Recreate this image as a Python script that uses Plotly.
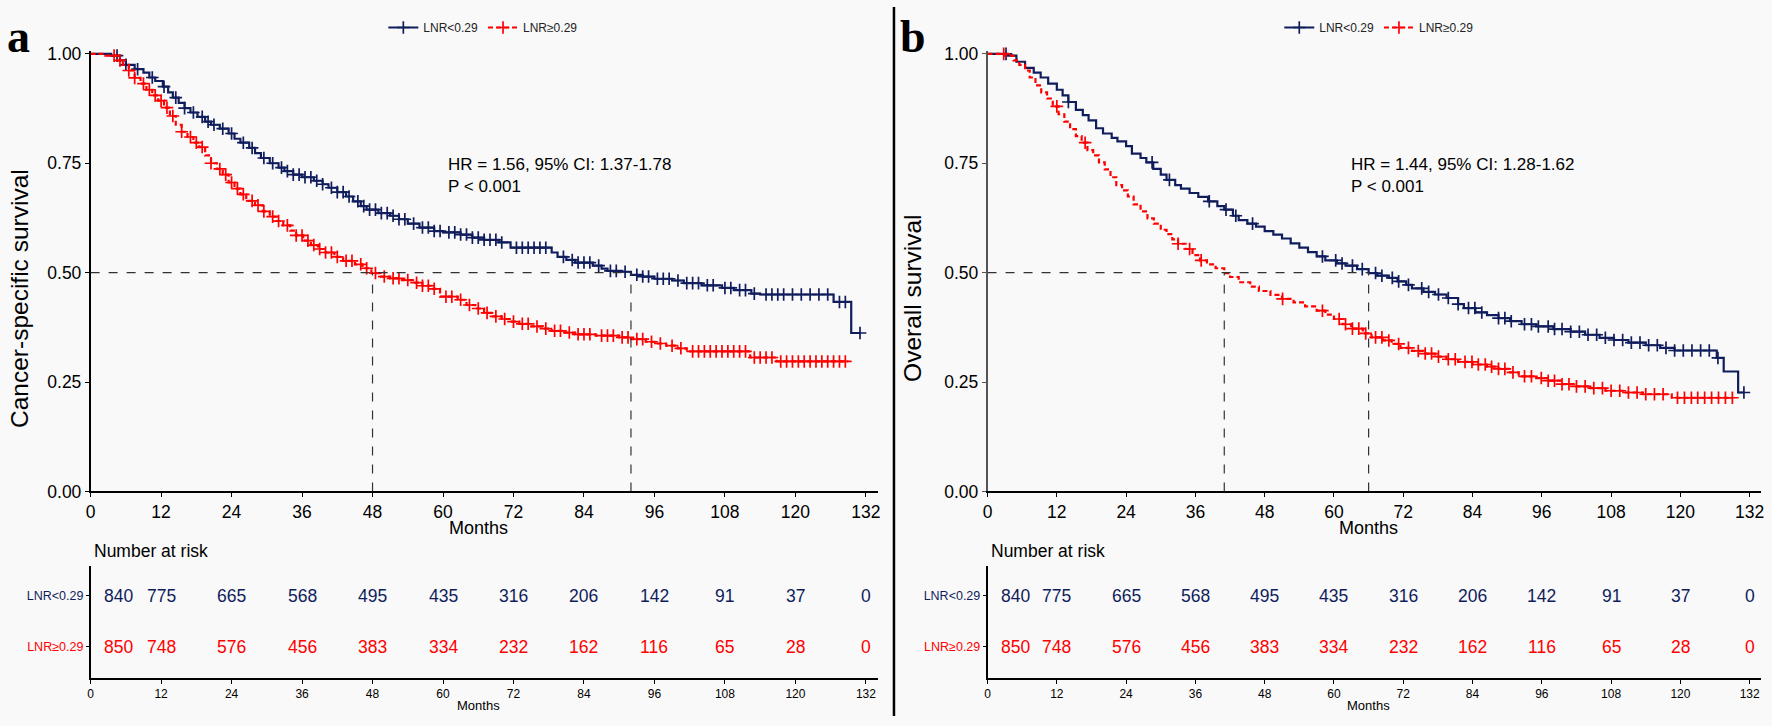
import numpy as np
import plotly.graph_objects as go

W, H = 1772, 726
NAVY = "#101d5c"
RED = "#ff0000"
BG = "#f9f9f9"

groups = ["LNR<0.29", "LNR≥0.29"]
month_ticks = [0, 12, 24, 36, 48, 60, 72, 84, 96, 108, 120, 132]
risk_low = [840, 775, 665, 568, 495, 435, 316, 206, 142, 91, 37, 0]
risk_high = [850, 748, 576, 456, 383, 334, 232, 162, 116, 65, 28, 0]

# ---------- Panel a: cancer-specific survival ----------
a_low_t = [0, 3.5, 5.0, 6.0, 7.5, 9.0, 10.0, 11.0, 12.3, 13.2, 14.0, 15.0, 16.0, 17.0, 18.2, 19.5, 20.5,
           22.0, 23.5, 24.5, 25.5, 27.0, 28.0, 29.0, 30.5, 32.0, 33.0, 34.5, 36.0, 38.0, 39.5, 40.5, 42.0,
           43.5, 44.7, 46.0, 47.0, 49.0, 51.0, 52.5, 54.0, 56.0, 58.5, 60.0, 63.0, 65.0, 67.0, 69.5, 71.5,
           78.5, 79.5, 81.0, 82.5, 85.5, 87.0, 88.0, 90.5, 92.0, 94.0, 96.0, 99.0, 101.0, 104.0, 107.5,
           109.5, 112.5, 114.0, 126.5, 129.5]
a_low_s = [1.0, 0.996, 0.985, 0.975, 0.965, 0.957, 0.946, 0.938, 0.925, 0.912, 0.900, 0.888, 0.876, 0.866,
           0.856, 0.845, 0.838, 0.829, 0.818, 0.806, 0.797, 0.785, 0.773, 0.762, 0.750, 0.740, 0.732, 0.724,
           0.718, 0.710, 0.702, 0.694, 0.684, 0.674, 0.663, 0.652, 0.644, 0.636, 0.630, 0.622, 0.612, 0.603,
           0.595, 0.592, 0.587, 0.580, 0.575, 0.569, 0.557, 0.546, 0.536, 0.529, 0.523, 0.516, 0.509, 0.504,
           0.502, 0.495, 0.491, 0.486, 0.482, 0.476, 0.471, 0.465, 0.460, 0.452, 0.450, 0.433, 0.362]
a_low_end = 131
a_high_t = [0, 2.5, 4.5, 5.5, 6.5, 7.5, 8.5, 9.5, 10.5, 11.5, 12.5, 13.5, 14.5, 15.5, 16.5, 17.5, 18.5,
            19.5, 20.5, 21.5, 22.5, 23.5, 24.5, 25.5, 26.5, 28.0, 29.3, 30.5, 31.5, 32.8, 34.0, 35.0, 36.2,
            37.5, 38.7, 40.0, 41.5, 43.0, 45.0, 46.3, 47.8, 49.2, 51.0, 53.0, 55.0, 56.5, 58.0, 59.5, 62.5,
            64.0, 65.5, 67.0, 68.5, 70.0, 71.5, 73.0, 75.0, 77.0, 78.5, 80.5, 82.5, 86.0, 90.0, 92.0, 94.5,
            96.0, 98.0, 100.0, 101.5, 112.3, 116.8]
a_high_s = [1.0, 0.996, 0.985, 0.975, 0.962, 0.945, 0.932, 0.918, 0.905, 0.893, 0.877, 0.858, 0.838, 0.822,
            0.810, 0.797, 0.787, 0.768, 0.750, 0.737, 0.724, 0.706, 0.692, 0.679, 0.664, 0.654, 0.640, 0.628,
            0.618, 0.608, 0.596, 0.585, 0.573, 0.563, 0.554, 0.546, 0.536, 0.527, 0.519, 0.510, 0.499, 0.491,
            0.487, 0.483, 0.477, 0.470, 0.463, 0.445, 0.438, 0.426, 0.418, 0.408, 0.400, 0.394, 0.388, 0.383,
            0.377, 0.372, 0.367, 0.363, 0.359, 0.356, 0.352, 0.348, 0.342, 0.338, 0.333, 0.327, 0.320, 0.306,
            0.297]
a_high_end = 129
a_low_cens = [4.5, 6, 8, 10.5, 12.5, 14.5, 16, 17.5, 19, 20, 21, 22.5, 24, 26, 27.5, 29.5, 31, 32.5, 33.5,
              34.5, 35.5, 36.5, 37.5, 38.5, 39.5, 41, 42, 43, 44, 45.5, 46.5, 47.5, 48.5, 49.5, 50.5, 51.5,
              52.5, 53.5, 55, 56.5, 57.5, 58.5, 59.5, 61, 62, 63, 64, 65, 66, 67, 68, 69, 70, 72.5, 73.5,
              74.5, 75.5, 76.5, 77.5, 80.5, 82, 83, 84, 85, 86.5, 88.5, 89.5, 91, 93, 94, 95, 96.5, 97.5,
              98.5, 100, 101.5, 102.5, 103.5, 105, 106, 108, 109, 110.5, 111.5, 113, 115, 116, 117, 118,
              119.5, 121, 122.5, 124, 125.5, 127.5, 128.5, 131]
a_high_cens = [4, 5, 6.5, 7.5, 9, 10, 11, 12, 13, 14, 15.5, 17, 18, 19, 20.5, 22, 23, 24, 25, 26, 27.5,
               28.5, 29.5, 31, 32, 33.5, 35, 36, 37, 38, 39, 40, 41, 42, 43.5, 44.5, 46, 47, 48.5, 50, 51.5,
               52.5, 54, 55.5, 56.5, 57.5, 58.5, 60.5, 61.5, 63, 64.5, 66, 67.5, 69, 70.5, 72, 73.5, 74.5,
               76, 77.5, 79, 80, 81.5, 83, 84, 85, 87, 88, 89, 90.5, 91.5, 93, 94, 95.5, 97, 99, 100.5,
               102.5, 103.5, 104.5, 105.5, 106.5, 107.5, 108.5, 109.5, 110.5, 111.5, 113, 114, 115, 116,
               117.5, 118.5, 119.5, 120.5, 121.5, 122.5, 123.5, 124.5, 125.5, 126.5, 127.5, 128.5]
a_medians = [48, 92]
a_text = "HR = 1.56, 95% CI: 1.37-1.78<br>P < 0.001"
a_ytitle = "Cancer-specific survival"

# ---------- Panel b: overall survival ----------
b_low_t = [0, 3.5, 5.0, 6.5, 8.0, 9.2, 10.5, 12.0, 13.0, 14.0, 15.3, 16.5, 17.5, 18.8, 20.0, 21.5, 22.5,
           24.0, 25.0, 26.5, 27.5, 28.7, 30.0, 31.0, 32.5, 33.5, 35.0, 36.5, 38.2, 39.8, 41.0, 42.5, 43.5,
           45.0, 46.5, 48.0, 49.5, 51.0, 52.5, 54.0, 55.5, 57.0, 58.5, 60.5, 62.0, 64.0, 66.0, 67.5, 69.5,
           71.0, 72.5, 73.5, 75.5, 77.5, 79.5, 81.5, 82.5, 84.5, 86.5, 88.5, 90.5, 92.5, 95.0, 98.0, 101.0,
           103.5, 106.0, 108.5, 111.0, 114.0, 116.5, 119.0, 126.3, 127.5, 130.0]
b_low_s = [1.0, 0.996, 0.982, 0.968, 0.957, 0.946, 0.932, 0.918, 0.905, 0.890, 0.872, 0.860, 0.848, 0.830,
           0.818, 0.808, 0.800, 0.789, 0.772, 0.762, 0.752, 0.737, 0.724, 0.712, 0.700, 0.692, 0.682, 0.673,
           0.663, 0.652, 0.644, 0.630, 0.620, 0.612, 0.605, 0.595, 0.587, 0.578, 0.567, 0.557, 0.547, 0.537,
           0.528, 0.521, 0.516, 0.508, 0.499, 0.493, 0.488, 0.480, 0.472, 0.464, 0.456, 0.450, 0.442, 0.428,
           0.419, 0.409, 0.403, 0.396, 0.389, 0.382, 0.377, 0.371, 0.365, 0.358, 0.351, 0.346, 0.340, 0.334,
           0.328, 0.322, 0.305, 0.274, 0.226]
b_low_end = 131
b_high_t = [0, 3.0, 4.5, 5.5, 6.5, 7.3, 8.3, 9.3, 10.3, 11.3, 12.3, 13.3, 14.3, 15.3, 16.3, 17.3, 18.3,
            19.3, 20.3, 21.3, 22.3, 23.3, 24.3, 25.3, 26.5, 27.7, 28.8, 30.0, 31.0, 32.0, 33.0, 34.3, 35.5,
            36.8, 38.0, 39.5, 41.0, 42.0, 43.5, 45.5, 47.0, 49.0, 51.0, 53.0, 55.0, 57.0, 58.5, 60.0, 61.5,
            63.0, 65.0, 66.5, 68.5, 70.0, 71.5, 73.5, 75.5, 77.5, 79.5, 81.5, 84.0, 86.5, 88.5, 90.5, 92.0,
            94.5, 97.0, 99.5, 102.0, 104.0, 107.0, 110.0, 113.5, 118.5]
b_high_s = [1.0, 0.996, 0.985, 0.975, 0.962, 0.946, 0.928, 0.912, 0.898, 0.880, 0.862, 0.845, 0.828, 0.812,
            0.797, 0.780, 0.768, 0.752, 0.736, 0.718, 0.700, 0.688, 0.674, 0.656, 0.640, 0.624, 0.612, 0.598,
            0.588, 0.576, 0.566, 0.554, 0.540, 0.528, 0.519, 0.510, 0.499, 0.490, 0.478, 0.468, 0.458, 0.449,
            0.440, 0.432, 0.423, 0.413, 0.404, 0.394, 0.382, 0.372, 0.361, 0.352, 0.345, 0.337, 0.328, 0.321,
            0.315, 0.308, 0.302, 0.296, 0.290, 0.285, 0.280, 0.272, 0.263, 0.259, 0.253, 0.245, 0.240, 0.236,
            0.230, 0.226, 0.222, 0.214]
b_high_end = 129
b_low_cens = [3.2, 14, 28.5, 31.5, 38.4, 41.3, 43, 45.9, 58, 60.3, 61.4, 63.2, 64.9, 67.2, 68.3, 70.1, 71.2,
              72.9, 75.2, 76.4, 78.1, 79.8, 81.5, 83.3, 84.4, 85.6, 88.5, 89.6, 90.7, 93, 94.2, 95.4, 97.1,
              98.2, 99.5, 101, 102.5, 104, 105.5, 107, 108.5, 110, 111.5, 113, 114.5, 116, 117.5, 119, 120.5,
              122, 123.5, 125, 126.5, 131]
b_high_cens = [2.8, 12, 16.9, 33, 35, 37, 51.1, 58, 60.9, 62, 63.2, 64.3, 65.5, 67.2, 68.3, 69.5, 71.2, 72.9,
               74.6, 75.8, 76.9, 78.1, 79.8, 81, 82.7, 83.9, 85, 86.2, 87.3, 88.5, 89.6, 91, 93, 94.2, 95.9,
               97.1, 98.2, 99.5, 100.7, 102, 103.5, 105, 106.5, 108, 109.5, 111, 112.5, 114, 115.5, 117,
               119.5, 120.7, 121.9, 123, 124.2, 125.4, 126.6, 127.8, 129]
b_medians = [41, 66]
b_text = "HR = 1.44, 95% CI: 1.28-1.62<br>P < 0.001"
b_ytitle = "Overall survival"

FONT = "Liberation Sans, Arial, sans-serif"


def px(x):
    return x / W


def py(y):
    return 1 - y / H


def step_at(t, s, c):
    idx = np.searchsorted(np.array(t), np.array(c), side="right") - 1
    return list(np.array(s)[idx])


fig = go.Figure()

panels = [
    dict(letter="a", x0=86, ppm=5.9, sfx=("", "3"), legend="legend",
         low=(a_low_t, a_low_s, a_low_end, a_low_cens), high=(a_high_t, a_high_s, a_high_end, a_high_cens),
         med=a_medians, text=a_text, ytitle=a_ytitle, ytitle_x=14, letter_x=0, text_x=443,
         yline="#000000"),
    dict(letter="b", x0=987, ppm=5.8, sfx=("2", "4"), legend="legend2",
         low=(b_low_t, b_low_s, b_low_end, b_low_cens), high=(b_high_t, b_high_s, b_high_end, b_high_cens),
         med=b_medians, text=b_text, ytitle=b_ytitle, ytitle_x=911, letter_x=897, text_x=1350,
         yline="#555555"),
]

annotations = []
shapes = []
XMAX = 134
PLOT_TOP, PLOT_BOT = 48, 496
TAB_TOP, TAB_BOT = 572, 687
YTITLE_Y = 298

for p in panels:
    m, t = p["sfx"]
    xa, ya, xt, yt = "x" + m, "y" + m, "x" + t, "y" + t
    x_lo = p["x0"]
    x_hi = p["x0"] + XMAX * p["ppm"]
    cx = (p["x0"] + p["x0"] + 132 * p["ppm"]) / 2

    for (tt, ss, end, cens), color, dash, name in [
        (p["low"], NAVY, "solid", groups[0]),
        (p["high"], RED, "5px,3px", groups[1]),
    ]:
        fig.add_trace(go.Scatter(x=tt + [end], y=ss + [ss[-1]], mode="lines",
                                 line=dict(color=color, width=2.2, dash=dash, shape="hv"),
                                 xaxis=xa, yaxis=ya, showlegend=False, hoverinfo="skip"))
        fig.add_trace(go.Scatter(x=cens, y=step_at(tt, ss, cens), mode="markers",
                                 marker=dict(symbol="cross-thin", size=9, line=dict(color=color, width=1.7)),
                                 xaxis=xa, yaxis=ya, showlegend=False, hoverinfo="skip", cliponaxis=False))
        fig.add_trace(go.Scatter(x=[None], y=[None], mode="lines+markers", name=name,
                                 line=dict(color=color, width=2.2, dash=dash),
                                 marker=dict(symbol="cross-thin", size=9, line=dict(color=color, width=1.7)),
                                 xaxis=xa, yaxis=ya, legend=p["legend"]))

    # risk table numbers
    for row_vals, yv, color in [(risk_low, 2, NAVY), (risk_high, 1, RED)]:
        for i, (mt, v) in enumerate(zip(month_ticks, row_vals)):
            annotations.append(dict(x=mt, y=yv, xref=xt, yref=yt, text=str(v), showarrow=False,
                                    xanchor="left" if i == 0 else "center", xshift=11 if i == 0 else 0,
                                    font=dict(size=17.5, color=color, family=FONT)))

    # median lines
    mhi = max(p["med"])
    shapes.append(dict(type="line", xref=xa, yref=ya, x0=0, x1=mhi, y0=0.5, y1=0.5,
                       line=dict(color="#333333", width=1.2, dash="dash")))
    for mv in p["med"]:
        shapes.append(dict(type="line", xref=xa, yref=ya, x0=mv, x1=mv, y0=0, y1=0.5,
                           line=dict(color="#333333", width=1.2, dash="dash")))

    common_x = dict(range=[0, XMAX], tickvals=month_ticks, ticks="outside", ticklen=4, tickwidth=1,
                    showline=True, linewidth=1.5, linecolor="#000000", tickcolor="#000000",
                    showgrid=False, zeroline=False, domain=[px(x_lo), px(x_hi)])
    fig.update_layout({
        "xaxis" + m: dict(common_x, anchor=ya, tickfont=dict(size=17.5, color="#000000", family=FONT)),
        "yaxis" + m: dict(range=[0, 1.006], domain=[py(PLOT_BOT), py(PLOT_TOP - 0.006 * 448)],
                          anchor=xa, tickvals=[0, 0.25, 0.5, 0.75, 1.0],
                          ticktext=["0.00", "0.25", "0.50", "0.75", "1.00"], ticks="outside", ticklen=4,
                          showline=True, linewidth=1.5, linecolor=p["yline"], tickcolor=p["yline"],
                          showgrid=False, zeroline=False,
                          tickfont=dict(size=17.5, color="#000000", family=FONT)),
        "xaxis" + t: dict(common_x, anchor=yt, tickfont=dict(size=12, color="#000000", family=FONT)),
        "yaxis" + t: dict(range=[0.385, 2.596], domain=[py(TAB_BOT), py(TAB_TOP)], anchor=xt,
                          tickvals=[2, 1],
                          ticktext=[f"<span style='color:{NAVY}'>{groups[0]}</span>",
                                    f"<span style='color:{RED}'>{groups[1]}</span>"],
                          ticks="outside", ticklen=3, showline=True, linewidth=1.5, linecolor="#000000",
                          tickcolor="#000000", showgrid=False, zeroline=False,
                          tickfont=dict(size=12.5, family=FONT)),
    })

    annotations += [
        dict(x=px(cx), y=py(534), xref="paper", yref="paper", text="Months", showarrow=False,
             font=dict(size=18, color="#000000", family=FONT), xanchor="center", yanchor="middle"),
        dict(x=px(cx), y=py(715), xref="paper", yref="paper", text="Months", showarrow=False,
             font=dict(size=13, color="#000000", family=FONT), xanchor="center", yanchor="middle"),
        dict(x=px(p["x0"] + 1), y=py(557), xref="paper", yref="paper", text="Number at risk", showarrow=False,
             font=dict(size=17.5, color="#000000", family=FONT), xanchor="left", yanchor="middle"),
        dict(x=px(p["ytitle_x"]), y=py(YTITLE_Y), xref="paper", yref="paper",
             text=p["ytitle"], textangle=-90, showarrow=False,
             font=dict(size=24.5, color="#000000", family=FONT), xanchor="center", yanchor="middle"),
        dict(x=px(p["text_x"]), y=py(149), xref="paper", yref="paper", text=p["text"], showarrow=False,
             align="left", font=dict(size=17, color="#000000", family=FONT), xanchor="left", yanchor="top"),
        dict(x=px(p["letter_x"]), y=py(30), xref="paper", yref="paper", text=f"<b>{p['letter']}</b>",
             showarrow=False, font=dict(size=46, color="#000000", family="Liberation Serif, Times New Roman, serif"),
             xanchor="left", yanchor="middle"),
    ]

shapes.append(dict(type="line", xref="paper", yref="paper", x0=px(893), x1=px(893), y0=0, y1=1,
                   line=dict(color="#000000", width=2.5)))

legend_common = dict(orientation="h", xanchor="center", yanchor="middle", y=py(21),
                     font=dict(size=12, color="#222222", family=FONT), bgcolor="rgba(0,0,0,0)",
                     itemwidth=30, tracegroupgap=0)
fig.update_layout(
    width=W, height=H, margin=dict(l=0, r=0, t=0, b=0),
    paper_bgcolor=BG, plot_bgcolor=BG,
    font=dict(family=FONT, color="#000000"),
    showlegend=True,
    legend=dict(legend_common, x=px(480)),
    legend2=dict(legend_common, x=px(1380)),
    annotations=annotations, shapes=shapes,
)

fig.write_html("out.html", config={"displayModeBar": False},
               post_script="document.body.style.margin='0px';document.body.style.overflow='hidden';"
                           "document.body.style.backgroundColor='" + BG + "';")
